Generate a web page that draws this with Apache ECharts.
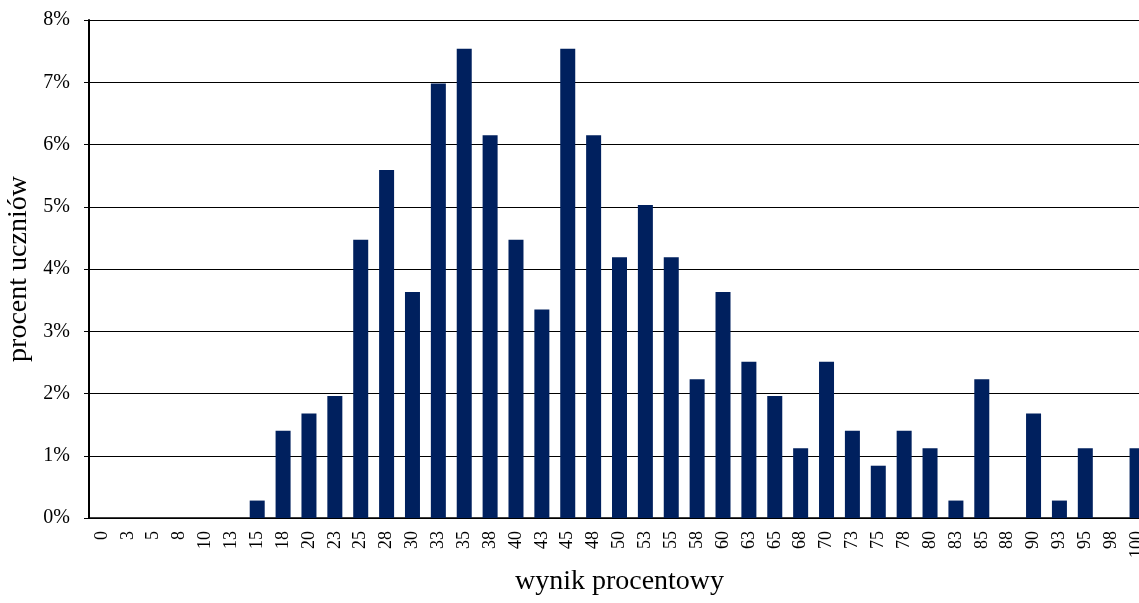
<!DOCTYPE html>
<html><head><meta charset="utf-8">
<script src="https://cdn.jsdelivr.net/npm/echarts@6/dist/echarts.min.js"></script>
<style>html,body{margin:0;padding:0;background:#fff}#c{width:1139px;height:603px}</style>
</head><body><div id="c"></div>
<script>
const categories = ['0','3','5','8','10','13','15','18','20','23','25','28','30','33','35','38','40','43','45','48','50','53','55','58','60','63','65','68','70','73','75','78','80','83','85','88','90','93','95','98','100'];
const values = [0,0,0,0,0,0,0.28,1.40,1.68,1.96,4.47,5.59,3.63,6.98,7.54,6.15,4.47,3.35,7.54,6.15,4.19,5.03,4.19,2.23,3.63,2.51,1.96,1.12,2.51,1.40,0.84,1.40,1.12,0.28,2.23,0,1.68,0.28,1.12,0,1.12];
const yTicks = [0,1,2,3,4,5,6,7,8];
const font = '"Liberation Serif","DejaVu Serif",serif';
const chart = echarts.init(document.getElementById('c'));
chart.setOption({
  animation:false,
  grid:{left:89,right:-11,top:20,bottom:85,containLabel:false,outerBoundsMode:'none'},
  xAxis:{type:'category',data:categories,
    name:'wynik procentowy',nameLocation:'middle',nameGap:50,
    nameTextStyle:{fontFamily:font,fontSize:28,color:'#000'},
    axisLine:{lineStyle:{color:'#000',width:1.5}},
    axisTick:{show:false},
    axisLabel:{rotate:90,interval:0,fontFamily:font,fontSize:18,color:'#000',margin:13}},
  yAxis:{type:'value',min:0,max:8,interval:1,
    name:'procent uczniów',nameLocation:'middle',nameGap:54,
    nameTextStyle:{fontFamily:font,fontSize:28,color:'#000'},
    axisLine:{show:true,lineStyle:{color:'#000',width:2}},
    axisTick:{show:true,length:5,lineStyle:{color:'#000'}},
    axisLabel:{formatter:v=>yTicks.includes(v)?v+'%':'',fontFamily:font,fontSize:20,color:'#000',margin:19},
    splitLine:{show:true,lineStyle:{color:'#000',width:1.2}}},
  series:[{type:'bar',data:values,barWidth:15,
    itemStyle:{color:'#00205E',borderWidth:0}}]
});
</script></body></html>
